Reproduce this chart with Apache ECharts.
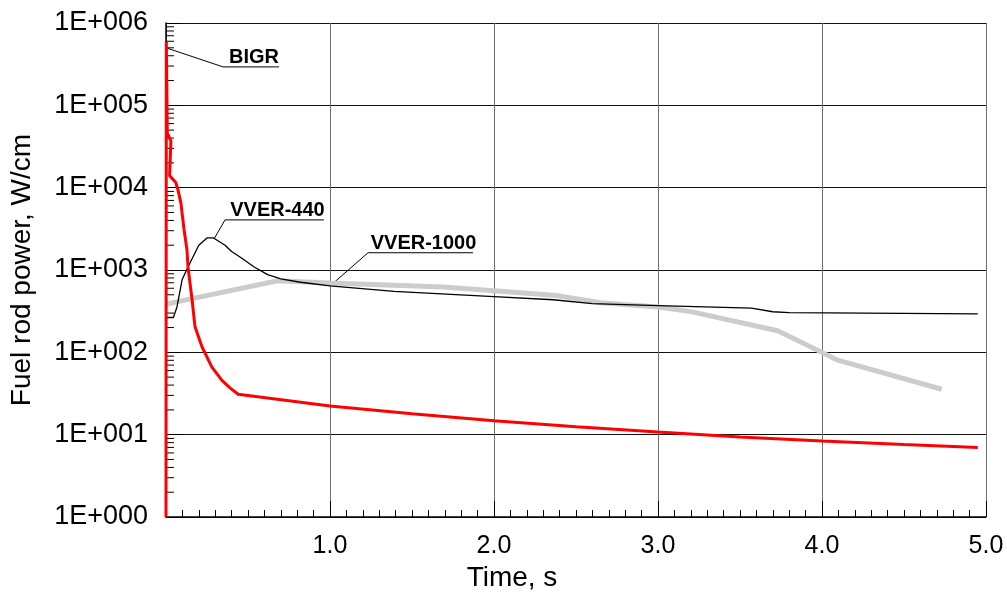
<!DOCTYPE html>
<html>
<head>
<meta charset="utf-8">
<script src="https://cdn.jsdelivr.net/npm/echarts@6/dist/echarts.min.js"></script>
<style>
  html, body { margin: 0; padding: 0; background: #fff; }
  #chart { width: 1007px; height: 595px; }
</style>
</head>
<body>
<div id="chart"></div>
<script>
// time, s / fuel rod power, W/cm
var bigrT = [0, 0.002, 0.008, 0.03, 0.022, 0.045, 0.06, 0.073, 0.091, 0.11, 0.128, 0.134, 0.159, 0.177, 0.22, 0.28, 0.34, 0.39, 0.44, 1.0, 1.5, 2.0, 2.5, 3.0, 3.5, 4.0, 4.5, 4.95];
var bigrP = [1, 590000, 46000, 37000, 14000, 12500, 11500, 9400, 6500, 3100, 1750, 1090, 435, 204, 116, 66, 46, 37, 31, 22.3, 18, 14.8, 12.5, 10.8, 9.4, 8.4, 7.6, 7.0];

var vver440T = [0, 0.045, 0.067, 0.098, 0.134, 0.20, 0.25, 0.29, 0.36, 0.40, 0.46, 0.54, 0.62, 0.70, 0.82, 1.0, 1.39, 2.0, 2.36, 2.6, 3.0, 3.57, 3.70, 3.8, 4.95];
var vver440P = [265, 265, 356, 760, 1090, 2000, 2450, 2450, 2000, 1680, 1400, 1080, 880, 780, 710, 640, 550, 475, 435, 390, 370, 345, 311, 303, 293];

var vver1000T = [0, 0.68, 1.0, 1.69, 2.0, 2.38, 2.65, 3.0, 3.2, 3.73, 3.99, 4.09, 4.73];
var vver1000P = [385, 740, 695, 620, 560, 490, 400, 355, 312, 183, 102, 81, 35.6];

var yDecades = [0, 1, 2, 3, 4, 5, 6];

// labels: anchor on curve, knee of leader, end of underline
var noteNames = ['BIGR', 'VVER-440', 'VVER-1000'];
var noteAnchorT = [0.0, 0.293, 1.03];
var noteAnchorP = [500000, 2390, 720];
var noteKneeT = [0.348, 0.36, 1.232];
var noteKneeP = [293000, 4060, 1620];
var noteEndT = [0.689, 0.963, 1.872];

function pairs(a, b) {
  return a.map(function (v, i) { return [v, b[i]]; });
}

var minorY = [];
yDecades.slice(0, -1).forEach(function (d) {
  for (var m = 2; m <= 9; m++) minorY.push([0, m * Math.pow(10, d)]);
});

var notes = noteNames.map(function (n, i) {
  return [noteAnchorT[i], noteAnchorP[i], noteKneeT[i], noteKneeP[i], noteEndT[i]];
});

var font = "'Liberation Sans', Arial, sans-serif";

var myChart = echarts.init(document.getElementById('chart'));
myChart.setOption({
  animation: false,
  backgroundColor: '#fff',
  grid: { left: 166, right: 21, top: 23, bottom: 78, containLabel: false, outerBoundsMode: 'none' },
  xAxis: {
    type: 'value',
    min: 0,
    max: 5,
    interval: 1,
    name: 'Time, s',
    nameLocation: 'middle',
    nameGap: 47,
    nameTextStyle: { color: '#000', fontSize: 28, fontFamily: font, padding: [0, 128, 0, 0] },
    axisLine: { show: true, onZero: false, lineStyle: { color: '#000', width: 1.5 } },
    axisTick: { show: true, inside: true, length: 16, lineStyle: { color: '#000' } },
    minorTick: { show: true, splitNumber: 10, length: 7, lineStyle: { color: '#000' } },
    splitLine: { show: true, lineStyle: { color: '#6e6e6e', width: 1 } },
    axisLabel: {
      color: '#000', fontSize: 25, fontFamily: font, margin: 17,
      formatter: function (v) { return v === 0 ? '' : v.toFixed(1); }
    }
  },
  yAxis: {
    type: 'log',
    logBase: 10,
    min: 1,
    max: 1000000,
    name: 'Fuel rod power, W/cm',
    nameLocation: 'middle',
    nameGap: 130,
    nameTextStyle: { color: '#000', fontSize: 28, fontFamily: font },
    axisLine: { show: true, lineStyle: { color: '#000', width: 1.5 } },
    axisTick: { show: true, inside: true, length: 16, lineStyle: { color: '#000' } },
    splitLine: { show: true, lineStyle: { color: '#111', width: 1 } },
    axisLabel: {
      color: '#000', fontSize: 27, fontFamily: font, margin: 18,
      formatter: function (v) {
        var e = Math.round(Math.log10(v));
        return '1E+' + String(e).padStart(3, '0');
      }
    }
  },
  series: [
    {
      // minor ticks of the log axis
      type: 'custom',
      silent: true,
      data: minorY,
      renderItem: function (params, api) {
        var p = api.coord([api.value(0), api.value(1)]);
        return {
          type: 'line',
          shape: { x1: p[0], y1: p[1], x2: p[0] + 8, y2: p[1] },
          style: { stroke: '#000', lineWidth: 1 }
        };
      }
    },
    {
      name: 'VVER-1000',
      type: 'line',
      showSymbol: false,
      data: pairs(vver1000T, vver1000P),
      lineStyle: { color: '#cccccc', width: 5 }
    },
    {
      name: 'VVER-440',
      type: 'line',
      showSymbol: false,
      data: pairs(vver440T, vver440P),
      lineStyle: { color: '#000', width: 1.3 }
    },
    {
      name: 'BIGR',
      type: 'line',
      showSymbol: false,
      data: pairs(bigrT, bigrP),
      lineStyle: { color: '#ff0000', width: 3 }
    },
    {
      // curve labels with leader lines
      type: 'custom',
      silent: true,
      clip: false,
      encode: { x: [0, 2, 4], y: [1, 3] },
      data: notes,
      renderItem: function (params, api) {
        var a = api.coord([api.value(0), api.value(1)]);
        var k = api.coord([api.value(2), api.value(3)]);
        var e = api.coord([api.value(4), api.value(3)]);
        return {
          type: 'group',
          children: [
            {
              type: 'polyline',
              shape: { points: [a, k, e] },
              style: { stroke: '#000', lineWidth: 1, fill: null }
            },
            {
              type: 'text',
              x: (k[0] + e[0]) / 2 + 3,
              y: k[1] + 1,
              style: {
                text: noteNames[params.dataIndex],
                font: 'bold 20px ' + font,
                fill: '#000',
                align: 'center',
                verticalAlign: 'bottom'
              }
            }
          ]
        };
      }
    }
  ]
});
</script>
</body>
</html>
